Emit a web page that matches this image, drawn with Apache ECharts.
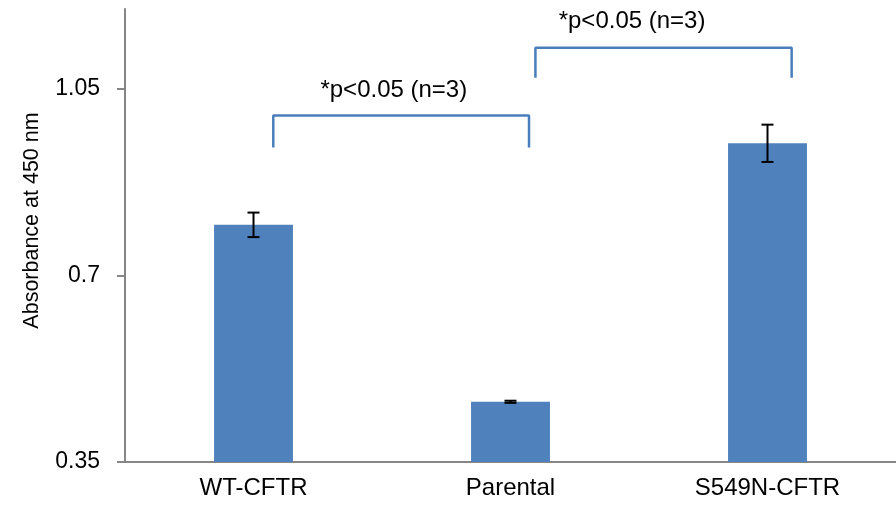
<!DOCTYPE html>
<html>
<head>
<meta charset="utf-8">
<script src="https://cdn.jsdelivr.net/npm/echarts@6/dist/echarts.min.js"></script>
<style>html,body{margin:0;padding:0;background:#fff}#c{width:896px;height:508px}</style>
</head>
<body>
<div id="c"></div>
<script>
const categories = ['WT-CFTR', 'Parental', 'S549N-CFTR'];
const values = [0.795, 0.463, 0.948];
const errors = [0.023, 0.002, 0.035];
const yTicks = [0.35, 0.7, 1.05];
// significance brackets: [xStart, xEnd, yTop, yLegBottom] in data units (category index scale)
const brackets = [
  [0.077, 1.072, 1.0, 0.94],
  [1.097, 2.094, 1.1275, 1.071]
];
const annotations = [
  [0.546, 1.047, '*p<0.05 (n=3)'],
  [1.473, 1.177, '*p<0.05 (n=3)']
];

const FONT = 'Liberation Sans, Arial, sans-serif';
const chart = echarts.init(document.getElementById('c'), null, {renderer: 'canvas'});

const bracketSeries = brackets.map(b => ({
  type: 'line',
  xAxisIndex: 1,
  yAxisIndex: 0,
  symbol: 'none',
  silent: true,
  lineStyle: {color: '#4a7ebb', width: 2.5},
  data: [[b[0], b[3]], [b[0], b[2]], [b[1], b[2]], [b[1], b[3]]],
  z: 5
}));

chart.setOption({
  animation: false,
  grid: {left: 125, right: 0, top: 9, bottom: 46, containLabel: false},
  xAxis: [{
    type: 'category',
    data: categories,
    axisLine: {onZero: false, lineStyle: {color: '#868686', width: 2}},
    axisTick: {show: false},
    axisLabel: {color: '#000', fontFamily: FONT, fontSize: 24, margin: 14}
  }, {
    type: 'value',
    min: -0.5,
    max: 2.5,
    show: false,
    axisLine: {onZero: false}
  }],
  yAxis: {
    type: 'value',
    min: 0.35,
    max: 1.2,
    interval: 0.35,
    name: 'Absorbance at 450 nm',
    nameLocation: 'middle',
    nameGap: 82,
    nameTextStyle: {color: '#000', fontFamily: FONT, fontSize: 21.5, padding: [0, 0, 0, 30]},
    splitLine: {show: false},
    axisLine: {show: true, onZero: false, lineStyle: {color: '#868686', width: 2}},
    axisTick: {show: true, length: 8, customValues: yTicks, lineStyle: {color: '#868686', width: 2}},
    axisLabel: {color: '#000', fontFamily: FONT, fontSize: 23, margin: 25, customValues: yTicks,
      formatter: v => String(v)}
  },
  series: [{
    type: 'bar',
    data: values,
    barWidth: '30.7%',
    itemStyle: {color: '#4f81bd'},
    z: 2
  }, {
    type: 'custom',
    xAxisIndex: 0,
    data: values.map((v, i) => [i, v - errors[i], v + errors[i]]),
    renderItem: (params, api) => {
      const lo = api.coord([api.value(0), api.value(1)]);
      const hi = api.coord([api.value(0), api.value(2)]);
      const hw = 6;
      const st = {stroke: '#000', lineWidth: 2};
      return {type: 'group', children: [
        {type: 'line', shape: {x1: hi[0], y1: hi[1], x2: lo[0], y2: lo[1]}, style: st},
        {type: 'line', shape: {x1: hi[0] - hw, y1: hi[1], x2: hi[0] + hw, y2: hi[1]}, style: st},
        {type: 'line', shape: {x1: lo[0] - hw, y1: lo[1], x2: lo[0] + hw, y2: lo[1]}, style: st}
      ]};
    },
    z: 10
  }, ...bracketSeries, {
    type: 'custom',
    xAxisIndex: 1,
    data: annotations,
    renderItem: (params, api) => {
      const p = api.coord([api.value(0), api.value(1)]);
      return {type: 'text', x: p[0], y: p[1], style: {
        text: annotations[params.dataIndex][2], fill: '#000',
        font: '24px ' + FONT, align: 'center', verticalAlign: 'middle'}};
    },
    z: 10
  }]
});
</script>
</body>
</html>
